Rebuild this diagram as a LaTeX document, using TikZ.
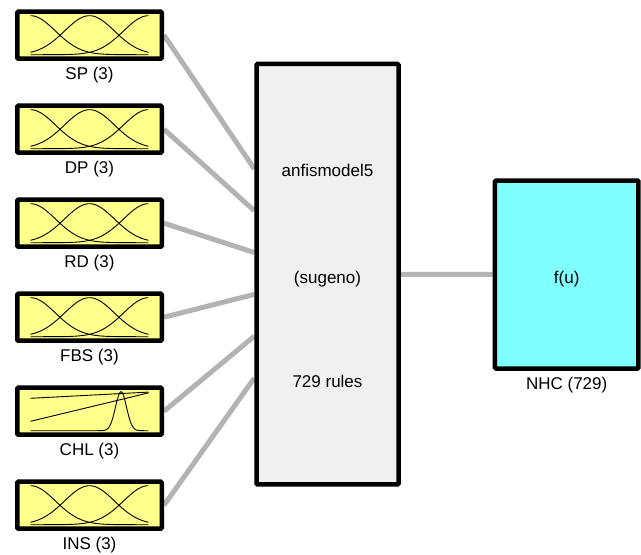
\documentclass[tikz,border=0pt]{standalone}
\usepackage{fontspec}
\setmainfont{Liberation Sans}
\usetikzlibrary{calc,backgrounds}

\definecolor{mfyellow}{RGB}{255,255,140}
\definecolor{fisgray}{RGB}{240,240,240}
\definecolor{outcyan}{RGB}{128,255,255}
\definecolor{wiregray}{RGB}{179,179,179}

% one gaussian membership curve, centre #1, width #2 (inside a box)
\newcommand{\gausscurve}[2]{%
  \draw[mfcurve] plot[domain=-59:59, samples=150]
    (\x, {19.5-39*exp(max(-20,-((\x-(#1))^2)/(2*(#2)^2)))});}

\begin{document}
\begin{tikzpicture}[
        x=1pt, y=-1pt,
        every node/.style={font=\fontsize{17}{20}\selectfont},
        every label/.style={inner sep=0pt},
        label distance=6.5pt,
        inbox/.style={draw, line width=4.5pt, rounded corners=1pt, fill=mfyellow,
            minimum width=144.5pt, minimum height=47pt, inner sep=0pt},
        fisbox/.style={draw, line width=4.5pt, rounded corners=1pt, fill=fisgray,
            minimum width=142pt, minimum height=420.5pt, inner sep=0pt},
        outbox/.style={draw, line width=4.5pt, rounded corners=1pt, fill=outcyan,
            minimum width=143.5pt, minimum height=188pt, inner sep=0pt},
        boxtext/.style={anchor=base, inner sep=0pt},
        mfcurve/.style={line width=0.9pt},
        wire/.style={draw=wiregray, line width=5pt}
    ]
    \useasboundingbox (0,0) rectangle (641,555);

    % inputs
    \foreach \nm/\lab [count=\i from 0] in {sp/SP,dp/DP,rd/RD,fbs/FBS,chl/CHL,ins/INS}
        \node[inbox, label=below:{\lab\ (3)}] (\nm) at (89.5,{35.2+94*\i}) {};

    % system and output
    \node[fisbox] (fis) at (327.5,274.2) {};
    \node[boxtext] (fisname) at (327.5,176) {anfismodel5};
    \node[boxtext] (fistype) at (327.5,283) {(sugeno)};
    \node[boxtext] (fisrules) at (327.5,387) {729 rules};

    \node[outbox, label=below:{NHC (729)}] (nhc) at (566.7,274.5) {};
    \node[boxtext] (nhcfun) at (566.7,283) {f(u)};

    % membership functions
    \foreach \nm in {sp,dp,rd,fbs,ins}
        \begin{scope}[shift={(\nm.center)}]
            \gausscurve{-59}{25}
            \gausscurve{0}{25}
            \gausscurve{59}{25}
        \end{scope};
    \begin{scope}[shift={(chl.center)}]
        \draw[mfcurve] (-59,-12.9) -- (59,-19.1);
        \draw[mfcurve] (-59,10.1) -- (59,-18.3);
        \gausscurve{31.5}{5.5}
    \end{scope}

    % connections
    \begin{pgfonlayer}{background}
        \foreach \nm [count=\i from 0] in {sp,dp,rd,fbs,chl,ins} {
            \coordinate (fisin\i) at ($(fis.north west)!{0.252+0.0985*\i}!(fis.south west)$);
            \draw[wire] (\nm.east) -- (fisin\i);
        }
        \draw[wire] (fis) -- (nhc);
    \end{pgfonlayer}
\end{tikzpicture}
\end{document}
